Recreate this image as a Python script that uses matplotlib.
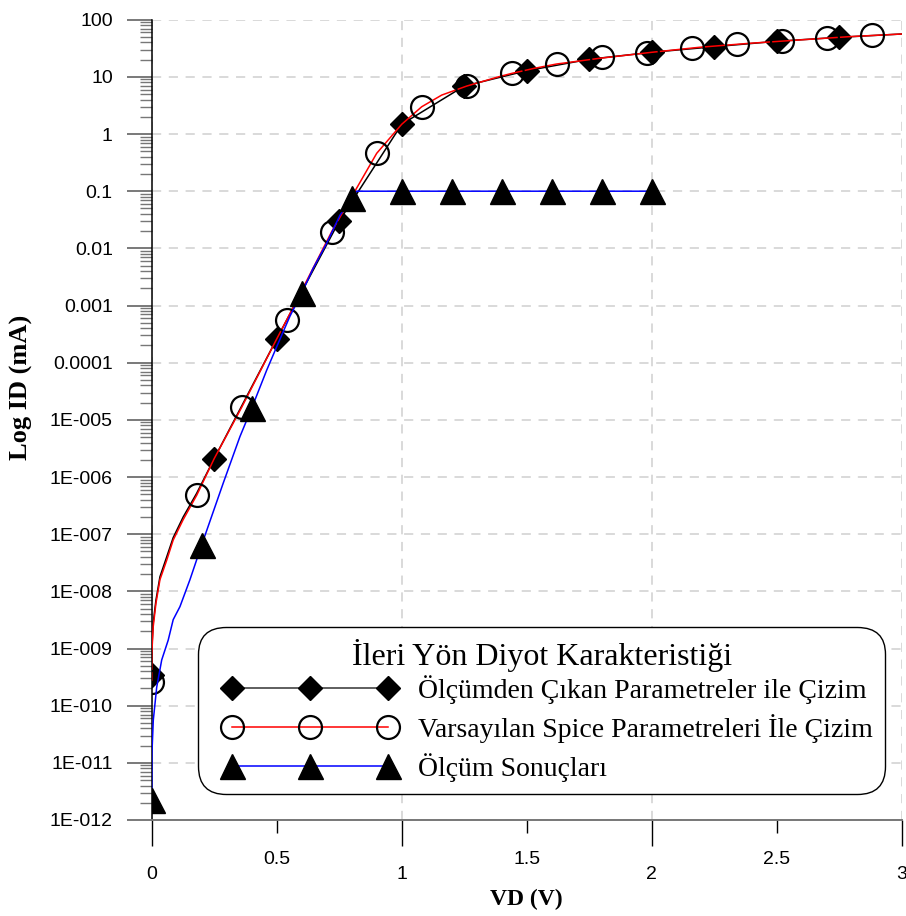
import matplotlib
matplotlib.use('Agg')
import matplotlib.pyplot as plt
from matplotlib.lines import Line2D
from matplotlib.legend_handler import HandlerLine2D
from matplotlib.ticker import FixedLocator, FixedFormatter, LogLocator, NullFormatter

# Ölçümden çıkan parametreler ile çizim (siyah eğri + baklava işaretleri)
vd_elmas = [0, 0.25, 0.5, 0.75, 1.0, 1.25, 1.5, 1.75, 2.0, 2.25, 2.5, 2.75]
id_elmas = [3.4e-10, 2.1e-6, 2.6e-4, 0.030, 1.48, 6.9, 12.8, 20.3, 26.9, 33.7, 41.9, 49.2]
vd_siyah = [0, 0.0005, 0.006, 0.017, 0.033, 0.06, 0.086, 0.126, 0.18, 0.25, 0.5, 0.75,
            1.0, 1.25, 1.5, 1.75, 2.0, 2.25, 2.5, 2.75, 3.0]
id_siyah = [3.4e-10, 1.0e-9, 2.8e-9, 7.0e-9, 1.8e-8, 4.0e-8, 8.7e-8, 2.0e-7, 5.2e-7, 2.1e-6,
            2.6e-4, 0.030, 1.48, 6.9, 12.8, 20.3, 26.9, 33.7, 41.9, 49.2, 56.2]

# Varsayılan spice parametreleri (kırmızı eğri + daire işaretleri)
vd_daire = [0, 0.18, 0.36, 0.54, 0.72, 0.9, 1.08, 1.26, 1.44, 1.62, 1.8, 1.98,
            2.16, 2.34, 2.52, 2.7, 2.88]
id_daire = [2.6e-10, 4.8e-7, 1.66e-5, 5.6e-4, 0.0196, 0.46, 3.0, 6.9, 11.5, 16.8, 22.0, 26.5,
            31.6, 37.0, 43.0, 47.9, 54.0]
vd_kirmizi = [0, 0.0005, 0.006, 0.017, 0.033, 0.06, 0.086, 0.126, 0.18, 0.25, 0.36, 0.5, 0.54,
              0.72, 0.8, 0.9, 1.0, 1.08, 1.16, 1.26, 1.39, 1.44, 1.53, 1.62, 1.66, 1.79, 2.0,
              2.19, 2.39, 2.59, 2.79, 3.0]
id_kirmizi = [2.8e-10, 8.3e-10, 2.4e-9, 6.2e-9, 1.6e-8, 3.5e-8, 7.9e-8, 1.8e-7, 4.8e-7, 2.1e-6,
              1.66e-5, 2.6e-4, 5.6e-4, 0.0196, 0.08, 0.46, 1.48, 3.0, 4.8, 6.9, 10.1, 11.5, 14.1,
              16.8, 17.7, 21.1, 26.9, 32.9, 38.6, 44.2, 50.5, 56.2]

# Ölçüm sonuçları (mavi eğri + üçgen işaretleri)
vd_ucgen = [0, 0.2, 0.4, 0.6, 0.8, 1.0, 1.2, 1.4, 1.6, 1.8, 2.0]
id_ucgen = [2.2e-12, 6.5e-8, 1.6e-5, 1.64e-3, 0.075, 0.1, 0.1, 0.1, 0.1, 0.1, 0.1]
vd_mavi = [0, 0.001, 0.0064, 0.02, 0.04, 0.066, 0.086, 0.113, 0.153, 0.2, 0.286, 0.353, 0.4,
           0.46, 0.5, 0.553, 0.6, 0.646, 0.7, 0.753, 0.8, 0.82, 2.0]
id_mavi = [2.2e-12, 1.5e-11, 5.6e-11, 2.1e-10, 6.3e-10, 1.4e-9, 3.2e-9, 5.4e-9, 1.6e-8, 6.5e-8,
           7.8e-7, 5.1e-6, 1.6e-5, 7.4e-5, 1.9e-4, 6.5e-4, 1.64e-3, 4.5e-3, 0.0123, 0.038,
           0.075, 0.1, 0.1]

y_ticks = [1e-12, 1e-11, 1e-10, 1e-9, 1e-8, 1e-7, 1e-6, 1e-5, 1e-4, 1e-3, 1e-2, 1e-1, 1, 10, 100]
y_labels = ['1E-012', '1E-011', '1E-010', '1E-009', '1E-008', '1E-007', '1E-006', '1E-005',
            '0.0001', '0.001', '0.01', '0.1', '1', '10', '100']

etiketler = ['Ölçümden Çıkan Parametreler ile Çizim',
             'Varsayılan Spice Parametreleri İle Çizim',
             'Ölçüm Sonuçları']

sans = ['Liberation Sans', 'DejaVu Sans']
serif = ['Liberation Serif', 'DejaVu Serif']

fig = plt.figure(figsize=(9.06, 9.16), dpi=100)
ax = fig.add_axes([151.7 / 906, 1 - 820 / 916, 750 / 906, 800.3 / 916])

ax.plot(vd_siyah, id_siyah, color='black', lw=1.1, zorder=3)
ax.plot(vd_elmas, id_elmas, ls='none', marker='D', ms=12.5, color='black', zorder=4)
ax.plot(vd_kirmizi, id_kirmizi, color='red', lw=1.1, zorder=5)
ax.plot(vd_daire, id_daire, ls='none', marker='o', ms=16.5, mfc='none', mec='black', mew=1.6, zorder=6)
ax.plot(vd_mavi, id_mavi, color='blue', lw=1.1, zorder=7)
ax.plot(vd_ucgen, id_ucgen, ls='none', marker='^', ms=18, color='black', zorder=8)

ax.set_yscale('log')
ax.set_xlim(0, 3)
ax.set_ylim(1e-12, 100)

ax.yaxis.set_major_locator(FixedLocator(y_ticks))
ax.yaxis.set_major_formatter(FixedFormatter(y_labels))
ax.yaxis.set_minor_locator(LogLocator(base=10, subs=range(2, 10), numticks=30))
ax.yaxis.set_minor_formatter(NullFormatter())

ax.xaxis.set_major_locator(FixedLocator([0, 1, 2, 3]))
ax.xaxis.set_major_formatter(FixedFormatter(['0', '1', '2', '3']))
ax.xaxis.set_minor_locator(FixedLocator([0.5, 1.5, 2.5]))
ax.xaxis.set_minor_formatter(FixedFormatter(['0.5', '1.5', '2.5']))

ax.tick_params(axis='y', which='major', length=18, width=1.1, color='#555555', pad=10)
ax.tick_params(axis='y', which='minor', length=9, width=1.0, color='#777777')
ax.tick_params(axis='x', which='major', length=19, width=1.0, color='black', pad=14)
ax.tick_params(axis='x', which='minor', length=9, width=1.0, color='black', pad=13)
for lab in ax.get_yticklabels() + ax.get_xticklabels() + ax.get_xticklabels(minor=True):
    lab.set_fontfamily(sans)
    lab.set_fontsize(14)

ax.grid(True, which='major', color='#d0d0d0', ls=(0, (6, 5)), lw=1.1)
ax.set_axisbelow(True)

for s in ['top', 'right']:
    ax.spines[s].set_visible(False)
ax.spines['left'].set_color('black')
ax.spines['left'].set_linewidth(1.1)
ax.spines['bottom'].set_color('#777777')
ax.spines['bottom'].set_linewidth(1.4)

ax.set_xlabel('VD (V)', fontfamily=serif, fontweight='bold', fontsize=17)
ax.set_ylabel('Log ID (mA)', fontfamily=serif, fontweight='bold', fontsize=19)
ax.xaxis.set_label_coords(0.5, -0.086)
ax.yaxis.set_label_coords(-0.158, 0.54)

h1 = Line2D([], [], color='#333333', lw=1.1, marker='D', ms=12.5, mfc='black', mec='black')
h2 = Line2D([], [], color='red', lw=1.1, marker='o', ms=16.5, mfc='none', mec='black', mew=1.6)
h3 = Line2D([], [], color='blue', lw=1.1, marker='^', ms=18, mfc='black', mec='black')
leg = ax.legend([h1, h2, h3], etiketler, title='İleri Yön Diyot Karakteristiği',
                loc='lower left', bbox_to_anchor=(0.0435, 0.015), numpoints=3,
                handler_map={Line2D: HandlerLine2D(marker_pad=0.75)},
                handlelength=7.15, handletextpad=0.3, labelspacing=0.36, borderpad=0.45,
                fancybox=True, framealpha=1, edgecolor='black',
                prop={'family': serif, 'size': 20}, title_fontproperties={'family': serif, 'size': 23})
leg._legend_box.sep = 2  # başlık ile ilk satır arası daha sık
leg.get_frame().set_linewidth(1.0)
leg.get_frame().set_boxstyle('round', pad=0.0, rounding_size=1.0)
leg.set_zorder(10)

fig.savefig('out.png', dpi=100)
